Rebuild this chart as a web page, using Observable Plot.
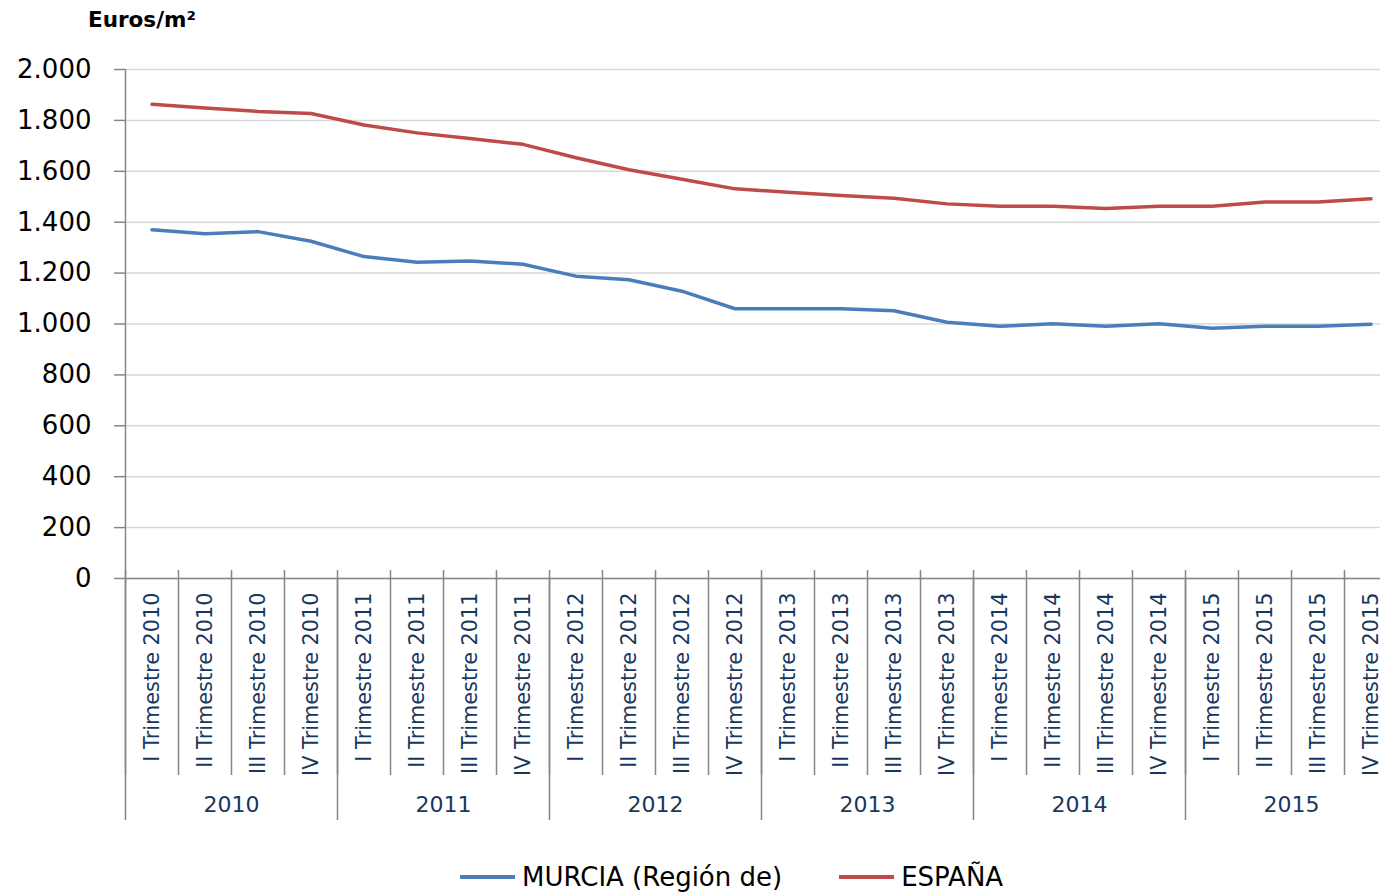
<!DOCTYPE html>
<html><head><meta charset="utf-8">
<script src="https://cdn.jsdelivr.net/npm/d3@7"></script>
<script src="https://cdn.jsdelivr.net/npm/@observablehq/plot@0.6"></script>
<style>
body{margin:0;overflow:hidden;background:#fff;font-family:"DejaVu Sans",sans-serif;width:1380px;height:894px}
#title{height:40px;line-height:40px;padding-left:88px;font-weight:bold;font-size:21.5px;color:#000}
#legend{display:flex;align-items:center;height:34px;margin-top:20px;padding-left:460px;font-size:26px;color:#000;white-space:nowrap}
.item{display:flex;align-items:center}
.sw{width:55px;height:3.5px;margin-right:7px}
</style></head><body>
<div id="title">Euros/m²</div>
<div id="chart"></div>
<div id="legend"></div>
<script>
const years = ["2010", "2011", "2012", "2013", "2014", "2015"];
const romans = ["I", "II", "III", "IV"];
const quarters = years.flatMap(y => romans.map(r => `${r} Trimestre ${y}`));
const seriesNames = ["MURCIA (Región de)", "ESPAÑA"];
const seriesColors = ["#4a7ebb", "#be4b48"];
const murcia = [1370, 1355, 1363, 1325, 1265, 1243, 1248, 1235, 1188, 1174, 1129, 1060,
                1060, 1060, 1052, 1007, 991, 1001, 991, 1001, 983, 991, 991, 999];
const espana = [1863, 1849, 1835, 1827, 1782, 1751, 1729, 1706, 1653, 1606, 1569, 1531,
                1518, 1505, 1494, 1472, 1463, 1463, 1454, 1463, 1463, 1479, 1479, 1492];
const yTicks = [0, 200, 400, 600, 800, 1000, 1200, 1400, 1600, 1800, 2000];

const fmt = d3.formatLocale({decimal: ",", thousands: ".", grouping: [3], currency: ["", "€"]}).format(",.0f");
const seriesValues = [murcia, espana];
const data = seriesNames.flatMap((name, si) => seriesValues[si].map((v, i) => ({series: name, i, v})));
const xDomain = [-0.5, quarters.length - 0.5];
const boundaries = d3.range(quarters.length + 1).map(i => i - 0.5);
const yearBounds = d3.range(years.length + 1).map(k => k * romans.length - 0.5);
const axisGray = "#868686";
const labelColor = "#17375e";

const chart = Plot.plot({
  width: 1397,
  height: 800,
  marginLeft: 125,
  marginRight: 0,
  marginTop: 29,
  marginBottom: 262,
  style: {maxWidth: "none", fontFamily: "DejaVu Sans", background: "white"},
  x: {type: "linear", domain: xDomain},
  y: {domain: [yTicks[0], yTicks[yTicks.length - 1]]},
  color: {domain: seriesNames, range: seriesColors},
  marks: [
    Plot.gridY({ticks: yTicks, stroke: "#d9d9d9", strokeOpacity: 1, strokeWidth: 1.5}),
    Plot.axisY({ticks: yTicks, tickSize: 11, tickPadding: 23, tickFormat: fmt, fontSize: 26, stroke: axisGray, strokeWidth: 1.5, fill: "#000", label: null}),
    Plot.ruleX([xDomain[0]], {y1: yTicks[0], y2: yTicks[yTicks.length - 1], stroke: axisGray, strokeWidth: 1.5}),
    Plot.ruleY([yTicks[0]], {stroke: axisGray, strokeWidth: 1.5}),
    Plot.axisX({ticks: boundaries, tickSize: 197, tickFormat: () => "", stroke: axisGray, strokeWidth: 1.5, label: null}),
    Plot.axisX({ticks: yearBounds, tickSize: 242, tickFormat: () => "", stroke: axisGray, strokeWidth: 1.5, label: null}),
    Plot.axisX({ticks: boundaries, tickSize: -8, tickFormat: () => "", stroke: axisGray, strokeWidth: 1.5, label: null}),
    Plot.text(quarters, {x: (d, i) => i, text: d => d, frameAnchor: "bottom", dy: 14, rotate: -90, textAnchor: "end", lineAnchor: "middle", fontSize: 20.8, fill: labelColor}),
    Plot.text(years, {x: (d, i) => i * romans.length + (romans.length - 1) / 2, text: d => d, frameAnchor: "bottom", dy: 226, lineAnchor: "middle", fontSize: 22, fill: labelColor}),
    Plot.line(data, {x: "i", y: "v", stroke: "series", strokeWidth: 3.5})
  ]
});
document.getElementById("chart").appendChild(chart);

const legend = document.getElementById("legend");
seriesNames.forEach((name, si) => {
  const item = document.createElement("div");
  item.className = "item";
  if (si > 0) item.style.marginLeft = "57px";
  const sw = document.createElement("div");
  sw.className = "sw";
  sw.style.background = seriesColors[si];
  const t = document.createElement("span");
  t.textContent = name;
  item.appendChild(sw);
  item.appendChild(t);
  legend.appendChild(item);
});
</script>
</body></html>
